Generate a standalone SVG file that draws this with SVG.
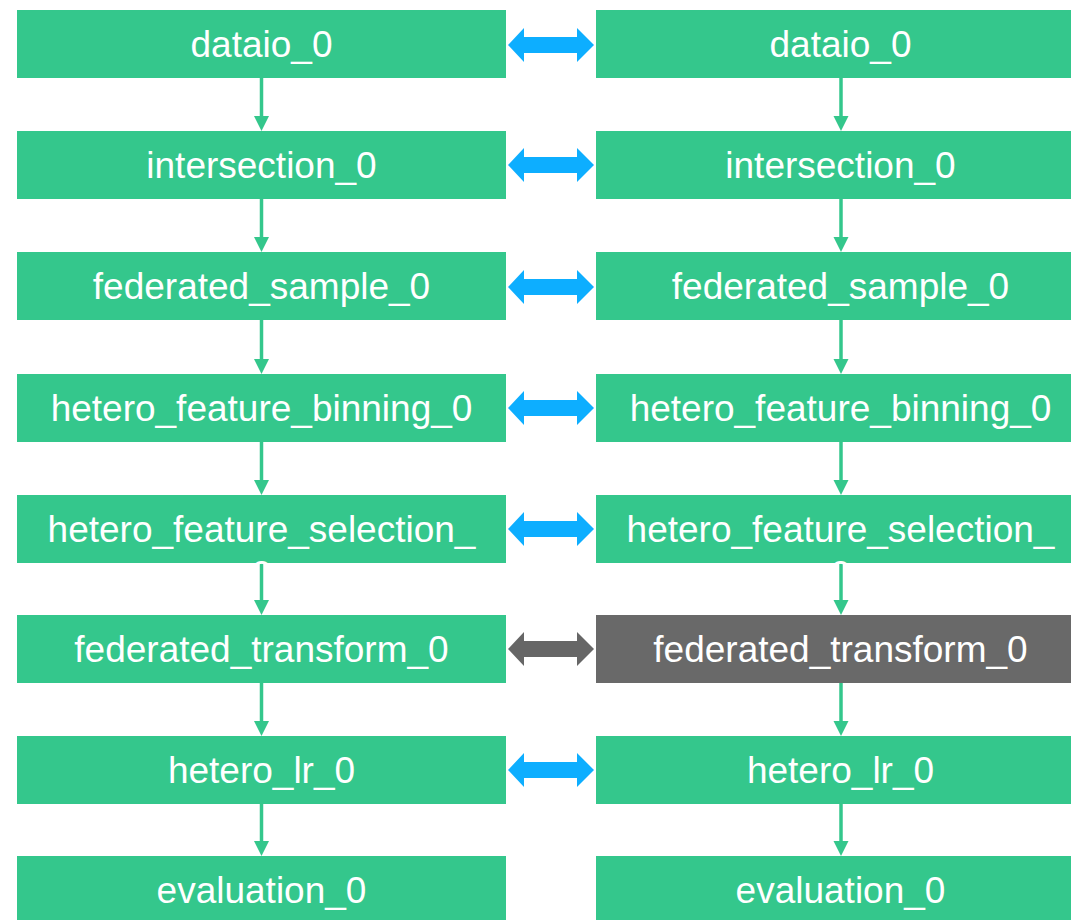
<svg xmlns="http://www.w3.org/2000/svg" width="1071" height="920" viewBox="0 0 1071 920">
  <style>
    .box { fill: #34c78c; }
    .box.off { fill: #696969; }
    .lbl { font-family: "Liberation Sans", Arial, sans-serif; font-size: 37px; fill: #ffffff; text-anchor: middle; }
    .flow { stroke: #34c78c; stroke-width: 3.5; fill: none; }
    .head { fill: #34c78c; }
    .link { fill: #0daeff; }
    .link.off { fill: #666666; }
  </style>
  <defs>
    <!-- double-headed block arrow centred on y=0 -->
    <polygon id="dbl" points="508,0 509,-1 524,-17 524,-8 577,-8 577,-17 593,-1 594,0 593,1 577,17 577,8 524,8 524,17 509,1"/>
    <clipPath id="clipSelL"><rect x="17" y="495" width="489" height="71"/></clipPath>
    <clipPath id="clipSelR"><rect x="596" y="495" width="489" height="71"/></clipPath>
  </defs>

  <!-- left column -->
  <g id="l_dataio"><rect class="box" x="17" y="10" width="489" height="68"/><text class="lbl" x="261.5" y="57">dataio_0</text></g>
  <g id="l_intersection"><rect class="box" x="17" y="131" width="489" height="68"/><text class="lbl" x="261.5" y="178">intersection_0</text></g>
  <g id="l_sample"><rect class="box" x="17" y="252" width="489" height="68"/><text class="lbl" x="261.5" y="299">federated_sample_0</text></g>
  <g id="l_binning"><rect class="box" x="17" y="374" width="489" height="68"/><text class="lbl" x="261.5" y="421">hetero_feature_binning_0</text></g>
  <g id="l_selection"><rect class="box" x="17" y="495" width="489" height="68"/><text class="lbl" x="261.5" y="542">hetero_feature_selection_</text></g>
  <g id="l_transform"><rect class="box" x="17" y="615" width="489" height="68"/><text class="lbl" x="261.5" y="662">federated_transform_0</text></g>
  <g id="l_lr"><rect class="box" x="17" y="736" width="489" height="68"/><text class="lbl" x="261.5" y="783">hetero_lr_0</text></g>
  <g id="l_evaluation"><rect class="box" x="17" y="856" width="489" height="68"/><text class="lbl" x="261.5" y="903">evaluation_0</text></g>

  <!-- right column -->
  <g id="r_dataio"><rect class="box" x="596" y="10" width="489" height="68"/><text class="lbl" x="840.5" y="57">dataio_0</text></g>
  <g id="r_intersection"><rect class="box" x="596" y="131" width="489" height="68"/><text class="lbl" x="840.5" y="178">intersection_0</text></g>
  <g id="r_sample"><rect class="box" x="596" y="252" width="489" height="68"/><text class="lbl" x="840.5" y="299">federated_sample_0</text></g>
  <g id="r_binning"><rect class="box" x="596" y="374" width="489" height="68"/><text class="lbl" x="840.5" y="421">hetero_feature_binning_0</text></g>
  <g id="r_selection"><rect class="box" x="596" y="495" width="489" height="68"/><text class="lbl" x="840.5" y="542">hetero_feature_selection_</text></g>
  <g id="r_transform"><rect class="box off" x="596" y="615" width="489" height="68"/><text class="lbl" x="840.5" y="662">federated_transform_0</text></g>
  <g id="r_lr"><rect class="box" x="596" y="736" width="489" height="68"/><text class="lbl" x="840.5" y="783">hetero_lr_0</text></g>
  <g id="r_evaluation"><rect class="box" x="596" y="856" width="489" height="68"/><text class="lbl" x="840.5" y="903">evaluation_0</text></g>

  <!-- connectors -->
  <g id="connectors">
    <g id="flow_left">
      <line class="flow" x1="261.5" y1="78" x2="261.5" y2="118"/><polygon class="head" points="254,116 269,116 261.5,131"/>
      <line class="flow" x1="261.5" y1="199" x2="261.5" y2="239"/><polygon class="head" points="254,237 269,237 261.5,252"/>
      <line class="flow" x1="261.5" y1="320" x2="261.5" y2="361"/><polygon class="head" points="254,359 269,359 261.5,374"/>
      <line class="flow" x1="261.5" y1="442" x2="261.5" y2="482"/><polygon class="head" points="254,480 269,480 261.5,495"/>
      <line class="flow" x1="261.5" y1="563" x2="261.5" y2="602"/><polygon class="head" points="254,600 269,600 261.5,615"/>
      <line class="flow" x1="261.5" y1="683" x2="261.5" y2="723"/><polygon class="head" points="254,721 269,721 261.5,736"/>
      <line class="flow" x1="261.5" y1="804" x2="261.5" y2="843"/><polygon class="head" points="254,841 269,841 261.5,856"/>
    </g>
    <g id="flow_right">
      <line class="flow" x1="841" y1="78" x2="841" y2="118"/><polygon class="head" points="833.5,116 848.5,116 841,131"/>
      <line class="flow" x1="841" y1="199" x2="841" y2="239"/><polygon class="head" points="833.5,237 848.5,237 841,252"/>
      <line class="flow" x1="841" y1="320" x2="841" y2="361"/><polygon class="head" points="833.5,359 848.5,359 841,374"/>
      <line class="flow" x1="841" y1="442" x2="841" y2="482"/><polygon class="head" points="833.5,480 848.5,480 841,495"/>
      <line class="flow" x1="841" y1="563" x2="841" y2="602"/><polygon class="head" points="833.5,600 848.5,600 841,615"/>
      <line class="flow" x1="841" y1="683" x2="841" y2="723"/><polygon class="head" points="833.5,721 848.5,721 841,736"/>
      <line class="flow" x1="841" y1="804" x2="841" y2="843"/><polygon class="head" points="833.5,841 848.5,841 841,856"/>
    </g>
    <g id="links">
      <use href="#dbl" class="link" transform="translate(0,45)"/>
      <use href="#dbl" class="link" transform="translate(0,165)"/>
      <use href="#dbl" class="link" transform="translate(0,287)"/>
      <use href="#dbl" class="link" transform="translate(0,408)"/>
      <use href="#dbl" class="link" transform="translate(0,529)"/>
      <use href="#dbl" class="link off" transform="translate(0,649)"/>
      <use href="#dbl" class="link" transform="translate(0,770)"/>
    </g>
  </g>

  <!-- overflowing second line of the selection labels -->
  <text class="lbl" x="261.5" y="587" clip-path="url(#clipSelL)">0</text>
  <text class="lbl" x="840.5" y="587" clip-path="url(#clipSelR)">0</text>
</svg>
